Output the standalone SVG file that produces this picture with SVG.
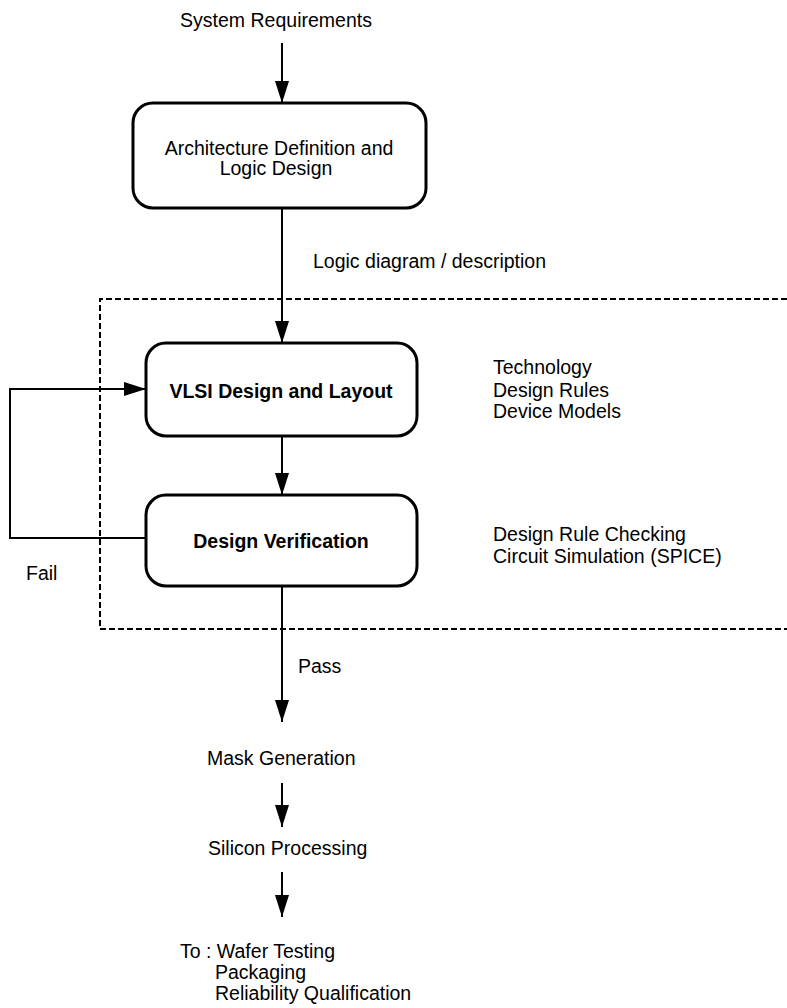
<svg xmlns="http://www.w3.org/2000/svg" width="787" height="1008" viewBox="0 0 787 1008">
<style>
text{font-family:"Liberation Sans",Arial,sans-serif;font-size:19.5px;fill:#000}
.b{font-weight:bold}
.m{text-anchor:middle}
.box{fill:#fff;stroke:#000;stroke-width:3}
.ln{fill:none;stroke:#000;stroke-width:2}
.dash{fill:none;stroke:#000;stroke-width:2;stroke-dasharray:6 3}
</style>
<defs>
<marker id="ah" markerUnits="userSpaceOnUse" markerWidth="24" markerHeight="16" refX="22" refY="7" orient="auto">
<path d="M0,0 L22,7 L0,14 Z" fill="#000"/>
</marker>
</defs>
<rect width="787" height="1008" fill="#fff"/>
<path class="dash" d="M787,299 H100 V629 H787"/>
<g id="connectors">
<line class="ln" x1="282" y1="43" x2="282" y2="103" marker-end="url(#ah)"/>
<line class="ln" x1="282" y1="208" x2="282" y2="343" marker-end="url(#ah)"/>
<line class="ln" x1="282" y1="436" x2="282" y2="495" marker-end="url(#ah)"/>
<path class="ln" d="M146,538 H10 V389 H146" marker-end="url(#ah)"/>
<line class="ln" x1="282" y1="586" x2="282" y2="722" marker-end="url(#ah)"/>
<line class="ln" x1="282" y1="783" x2="282" y2="827" marker-end="url(#ah)"/>
<line class="ln" x1="282" y1="872" x2="282" y2="917" marker-end="url(#ah)"/>
<text x="313" y="268">Logic diagram / description</text>
<text x="26" y="580">Fail</text>
<text x="298" y="673">Pass</text>
</g>
<g id="system-requirements"><text class="m" x="276" y="27">System Requirements</text></g>
<g id="architecture">
<rect class="box" x="133" y="103" width="293" height="105" rx="20"/>
<text class="m" x="279" y="155">Architecture Definition and</text>
<text class="m" x="276" y="175">Logic Design</text>
</g>
<g id="vlsi">
<rect class="box" x="146" y="343" width="271" height="93" rx="20"/>
<text class="m b" x="281" y="398">VLSI Design and Layout</text>
</g>
<g id="verification">
<rect class="box" x="146" y="495" width="271" height="91" rx="20"/>
<text class="m b" x="281" y="548">Design Verification</text>
</g>
<g id="tech-notes">
<text x="493" y="374">Technology</text>
<text x="493" y="397">Design Rules</text>
<text x="493" y="418">Device Models</text>
</g>
<g id="verif-notes">
<text x="493" y="541">Design Rule Checking</text>
<text x="493" y="563">Circuit Simulation (SPICE)</text>
</g>
<g id="mask"><text x="207" y="765">Mask Generation</text></g>
<g id="silicon"><text x="208" y="855">Silicon Processing</text></g>
<g id="to-list">
<text x="180" y="958">To : Wafer Testing</text>
<text x="215" y="979">Packaging</text>
<text x="215" y="1000">Reliability Qualification</text>
</g>
</svg>
